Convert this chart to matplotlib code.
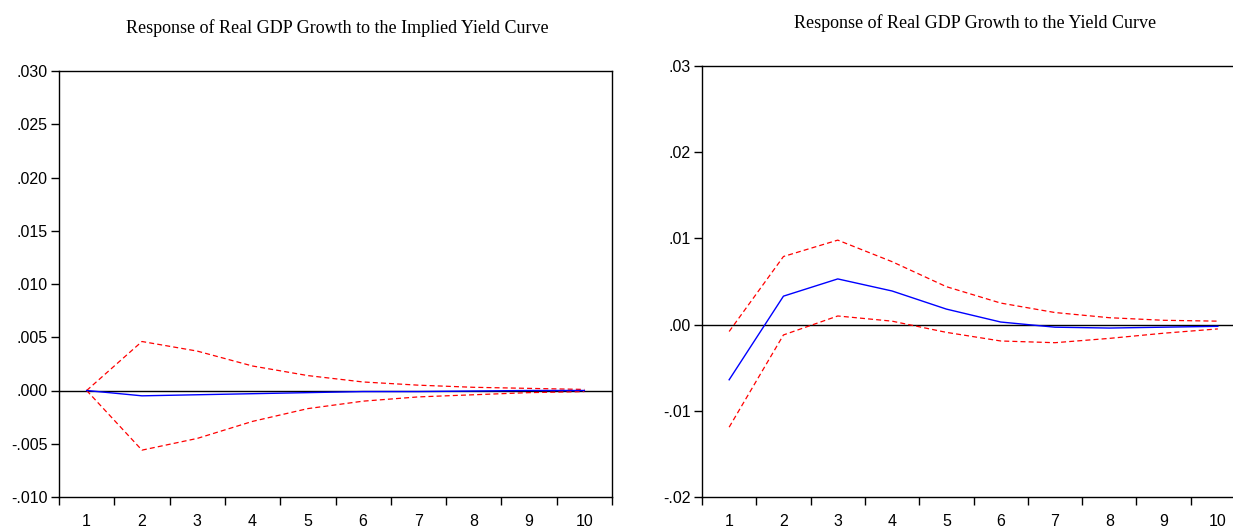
import matplotlib
matplotlib.use("Agg")
import matplotlib.pyplot as plt
from matplotlib import font_manager
import numpy as np

periods = [1, 2, 3, 4, 5, 6, 7, 8, 9, 10]

# Left panel: Response of Real GDP Growth to the Implied Yield Curve
implied_resp = [0.0, -0.0005, -0.0004, -0.0003, -0.0002, -0.0001, -0.0001, -0.00005, 0.0, 0.0]
implied_upper = [0.0, 0.0046, 0.0037, 0.0023, 0.0014, 0.0008, 0.0005, 0.0003, 0.0002, 0.0001]
implied_lower = [0.0, -0.0056, -0.0045, -0.0029, -0.0017, -0.0010, -0.0006, -0.0004, -0.0002, -0.0001]

# Right panel: Response of Real GDP Growth to the Yield Curve
yc_resp = [-0.0064, 0.0033, 0.0053, 0.0039, 0.0018, 0.0003, -0.0003, -0.0004, -0.0003, -0.0002]
yc_upper = [-0.0008, 0.0079, 0.0098, 0.0073, 0.0044, 0.0025, 0.0014, 0.0008, 0.0005, 0.0004]
yc_lower = [-0.0119, -0.0012, 0.0010, 0.0004, -0.0009, -0.0019, -0.0021, -0.0016, -0.0010, -0.0005]

left_title = "Response of Real GDP Growth to the Implied Yield Curve"
right_title = "Response of Real GDP Growth to the Yield Curve"
left_yticks = [-0.010, -0.005, 0.000, 0.005, 0.010, 0.015, 0.020, 0.025, 0.030]
left_ylabels = ["-.010", "-.005", ".000", ".005", ".010", ".015", ".020", ".025", ".030"]
right_yticks = [-0.02, -0.01, 0.00, 0.01, 0.02, 0.03]
right_ylabels = ["-.02", "-.01", ".00", ".01", ".02", ".03"]

names = {f.name for f in font_manager.fontManager.ttflist}
sans = "Liberation Sans Narrow" if "Liberation Sans Narrow" in names else "Liberation Sans"
serif = "Liberation Serif"

fig = plt.figure(figsize=(12.33, 5.27), dpi=100)
axL = fig.add_axes([59/1233, 30/527, 553/1233, 426/527])
axR = fig.add_axes([702/1233, 30/527, 543/1233, 431/527])

def draw(ax, resp, up, lo, yt, yl, ylim, show_right):
    ax.plot(periods, up, color="red", lw=0.9, ls=(0, (4, 2.5)))
    ax.plot(periods, lo, color="red", lw=0.9, ls=(0, (4, 2.5)))
    ax.axhline(0, color="black", lw=1.0, zorder=1)
    ax.plot(periods, resp, color="blue", lw=1.0)
    ax.set_xlim(0.5, 10.5)
    ax.set_ylim(*ylim)
    ax.set_yticks(yt)
    ax.set_yticklabels(yl, fontfamily=sans, fontsize=11.5)
    ax.set_xticks(periods)
    ax.set_xticklabels([str(p) for p in periods], fontfamily=sans, fontsize=11.5)
    ax.set_xticks(np.arange(0.5, 11.0, 1.0), minor=True)
    ax.tick_params(axis="x", which="major", length=0, pad=12)
    ax.tick_params(axis="x", which="minor", length=5.5, width=1, direction="out")
    ax.tick_params(axis="y", which="major", length=6, width=1, direction="out", pad=2)
    for s in ax.spines.values():
        s.set_linewidth(1.0)
    ax.spines["right"].set_visible(show_right)

draw(axL, implied_resp, implied_upper, implied_lower, left_yticks, left_ylabels,
     (-0.010, 0.030), True)
draw(axR, yc_resp, yc_upper, yc_lower, right_yticks, right_ylabels,
     (-0.02, 0.03), True)

fig.text(337/1233, 1 - 28/527, left_title, ha="center", va="center",
         fontfamily=serif, fontsize=13)
fig.text(975/1233, 1 - 23/527, right_title, ha="center", va="center",
         fontfamily=serif, fontsize=13)

fig.savefig("out.png", dpi=100)
